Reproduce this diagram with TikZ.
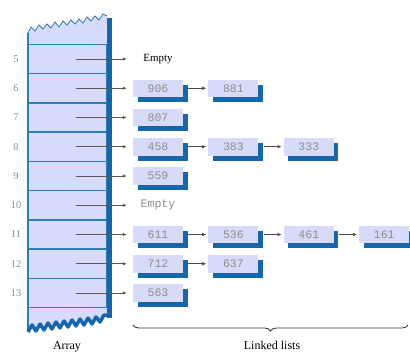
\documentclass[tikz,border=0pt]{standalone}
\usepackage{fontspec}
\setmainfont{Liberation Serif}
\setmonofont{Liberation Mono}
\usetikzlibrary{positioning,shadows,arrows.meta,decorations.pathreplacing}
\definecolor{cellfill}{HTML}{D7DBF9}
\definecolor{edgeblue}{HTML}{2C7DB5}
\definecolor{deepblue}{HTML}{1766AA}
\definecolor{digitgray}{HTML}{8C8C8C}
\begin{document}
\begin{tikzpicture}[x=1pt,y=-1pt,
    cell/.style={draw=edgeblue,line width=1.5pt,minimum width=79pt,minimum height=29.25pt,inner sep=0pt},
    rownum/.style={font=\fontsize{10.5}{10.5}\selectfont,text=digitgray},
    item/.style={fill=cellfill,minimum width=50pt,minimum height=17.5pt,inner sep=0pt,
        font=\fontsize{11.5}{12}\ttfamily,text=digitgray,
        drop shadow={shadow xshift=4.5pt,shadow yshift=-5pt,opacity=1,fill=deepblue}},
    none/.style={minimum width=50pt,minimum height=17.5pt,inner sep=0pt},
    ptr/.style={-{Latex[length=4pt,width=3.5pt]},draw=black!65,line width=0.6pt,shorten >=6pt},
    link/.style={-{Latex[length=4pt,width=3.5pt]},draw=black!70,line width=0.6pt,shorten <=5pt,shorten >=2pt}]
    \useasboundingbox (0,0) rectangle (410,354);
    % Der Array-Streifen mit abgerissenen Enden.
    \fill[cellfill] (28,33) -- (31,27) -- (35,31) -- (39,25) -- (43,29) -- (47,24) -- (51,28)
        -- (55,22) -- (59,27) -- (63,21) -- (67,25) -- (71,20) -- (75,24) -- (79,19) -- (83,23)
        -- (87,17) -- (91,21) -- (95,16) -- (99,20) -- (103,14) -- (107,16) -- (107,318)
        -- (104,315) -- (100,321) -- (96,317) -- (92,323) -- (88,318) -- (84,324) -- (80,319)
        -- (76,325) -- (72,320) -- (68,326) -- (64,321) -- (60,327) -- (56,322) -- (52,328)
        -- (48,323) -- (44,329) -- (40,324) -- (36,330) -- (32,325) -- (28,331) -- cycle;
    \foreach \r in {5,...,13} {
        \pgfmathsetmacro\yy{59+(\r-5)*29.25}
        \node[cell] (c\r) at (67.5,\yy) {};
        \node[rownum] (n\r) at (16,\yy) {\r};
    }
    \draw[edgeblue,line width=0.8pt] (28,33) -- (31,27) -- (35,31) -- (39,25) -- (43,29) -- (47,24)
        -- (51,28) -- (55,22) -- (59,27) -- (63,21) -- (67,25) -- (71,20) -- (75,24) -- (79,19)
        -- (83,23) -- (87,17) -- (91,21) -- (95,16) -- (99,20) -- (103,14) -- (107,16);
    \draw[edgeblue,line width=1.4pt] (28,33) -- (28,331);
    \fill[deepblue] (107,18) rectangle (112,318);
    \draw[deepblue,line width=3.5pt,line join=round] (28,332) -- (32,325) -- (36,331) -- (40,324)
        -- (44,330) -- (48,323) -- (52,329) -- (56,322) -- (60,328) -- (64,321) -- (68,327)
        -- (72,320) -- (76,326) -- (80,319) -- (84,325) -- (88,318) -- (92,324) -- (96,317)
        -- (100,322) -- (104,315) -- (111,316);
    % Listenkoepfe
    \node[none,font=\fontsize{11}{11}\selectfont] (h5) at (158,59) {Empty};
    \node[item] (h6) at (158,88.25) {906};
    \node[item] (h7) at (158,117.5) {807};
    \node[item] (h8) at (158,146.75) {458};
    \node[item] (h9) at (158,176) {559};
    \node[none,font=\fontsize{11.5}{12}\ttfamily,text=digitgray] (h10) at (158,205.25) {Empty};
    \node[item] (h11) at (158,234.5) {611};
    \node[item] (h12) at (158,263.75) {712};
    \node[item] (h13) at (158,293) {563};
    % weitere Glieder
    \node[item,right=25pt of h6] (h6b) {881};
    \node[item,right=25pt of h8] (h8b) {383};
    \node[item,right=25pt of h8b] (h8c) {333};
    \node[item,right=25pt of h11] (h11b) {536};
    \node[item,right=25pt of h11b] (h11c) {461};
    \node[item,right=25pt of h11c] (h11d) {161};
    \node[item,right=25pt of h12] (h12b) {637};
    \foreach \r in {5,...,13}
        \draw[ptr] ([xshift=8pt]c\r.center) -- (h\r);
    \draw[link] (h6) -- (h6b);
    \draw[link] (h8) -- (h8b);
    \draw[link] (h8b) -- (h8c);
    \draw[link] (h11) -- (h11b);
    \draw[link] (h11b) -- (h11c);
    \draw[link] (h11c) -- (h11d);
    \draw[link] (h12) -- (h12b);
    \draw[black!80,line width=0.8pt,decorate,decoration={brace,amplitude=6pt}] (408,325) -- (133,325);
    \node[font=\fontsize{12}{12}\selectfont] (lists) at (272,345) {Linked lists};
    \node[font=\fontsize{12}{12}\selectfont] (arr) at (67,347) {Array};
\end{tikzpicture}
\end{document}
